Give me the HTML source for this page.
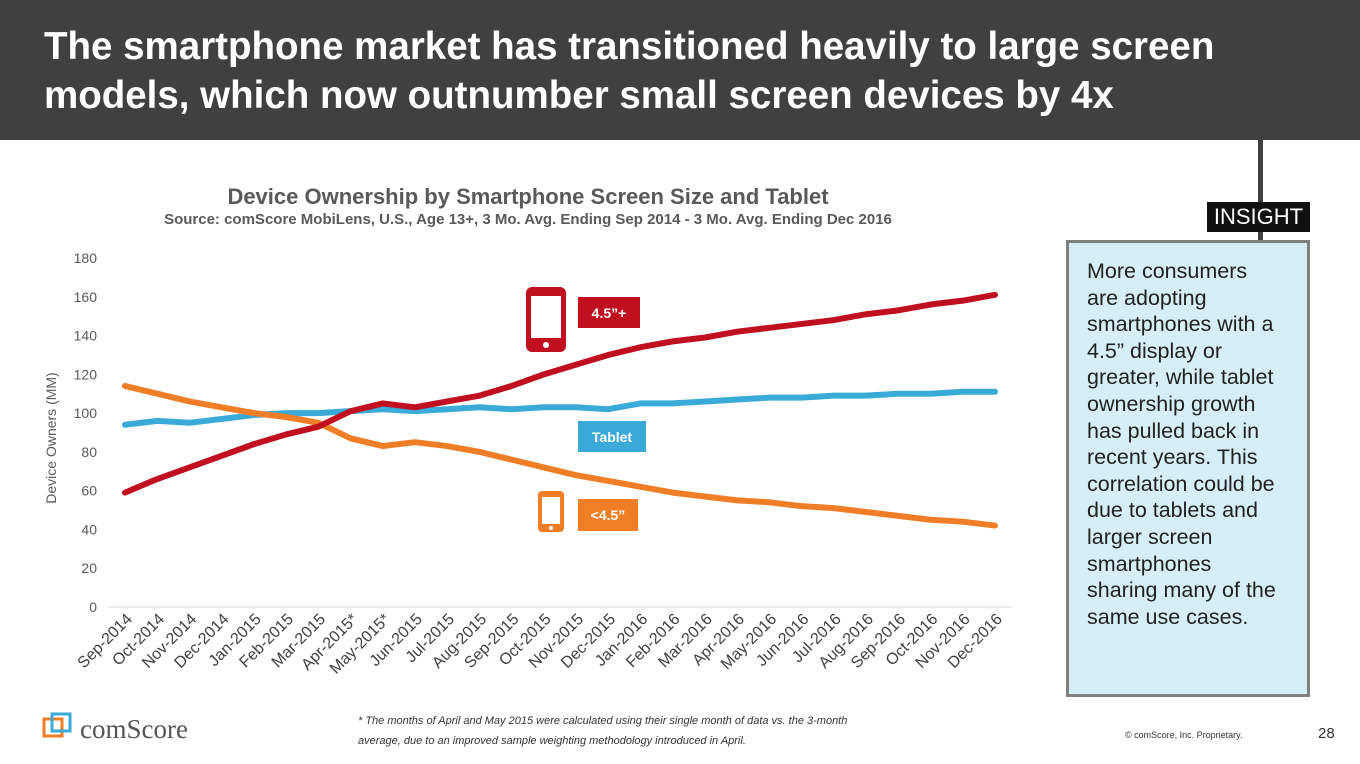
<!DOCTYPE html>
<html><head><meta charset="utf-8"><style>
body{margin:0;width:1360px;height:764px;position:relative;background:#fff;font-family:"Liberation Sans",sans-serif;overflow:hidden}
.abs{position:absolute}
</style></head><body>
<div class="abs" style="left:0;top:0;width:1360px;height:140px;background:#404040"></div>
<div class="abs" style="left:44px;top:22px;width:1300px;color:#fff;font-weight:bold;font-size:38.5px;line-height:49px;white-space:nowrap">The smartphone market has transitioned heavily to large screen<br>models, which now outnumber small screen devices by 4x</div>
<div class="abs" style="left:1258px;top:140px;width:5px;height:102px;background:#404040"></div>
<div class="abs" style="left:1207px;top:202px;width:103px;height:30px;background:#111;color:#fff;font-size:22px;line-height:30px;text-align:center">INSIGHT</div>
<div class="abs" style="left:1066px;top:240px;width:238px;height:451px;background:#d6eef5;border:3px solid #808080"></div>
<div class="abs" style="left:1087px;top:258px;width:197px;font-size:21.5px;line-height:26.6px;color:#222">More consumers are adopting smartphones with a 4.5” display or greater, while tablet ownership growth has pulled back in recent years. This correlation could be due to tablets and larger screen smartphones sharing many of the same use cases.</div>

<svg class="abs" style="left:0;top:0" width="1360" height="764">
<text x="528" y="204" text-anchor="middle" font-size="22" font-weight="bold" fill="#595959">Device Ownership by Smartphone Screen Size and Tablet</text>
<text x="528" y="224" text-anchor="middle" font-size="15" font-weight="bold" fill="#595959">Source: comScore MobiLens, U.S., Age 13+, 3 Mo. Avg. Ending Sep 2014 - 3 Mo. Avg. Ending Dec 2016</text>
<text transform="translate(56,438) rotate(-90)" text-anchor="middle" font-size="14" fill="#595959">Device Owners (MM)</text>
<g id="yticks"></g><g id="xticks"></g><g id="lines"></g>
<g><rect x="526" y="287" width="40" height="65" rx="6" fill="#c0101f"/><rect x="531" y="296" width="30" height="42" fill="#fff"/><circle cx="546" cy="345" r="3" fill="#fff"/></g>
<rect x="578" y="297" width="62" height="31" fill="#c0101f"/>
<text x="609" y="318" text-anchor="middle" font-size="14" font-weight="bold" fill="#fff">4.5”+</text>
<rect x="578" y="421" width="68" height="31" fill="#3aaad8"/>
<text x="612" y="442" text-anchor="middle" font-size="14" font-weight="bold" fill="#fff">Tablet</text>
<g><rect x="538" y="491" width="26" height="41" rx="4" fill="#f07e26"/><rect x="542" y="497" width="18" height="27" fill="#fff"/><circle cx="551" cy="528" r="2" fill="#fff"/></g>
<rect x="578" y="499" width="60" height="32" fill="#f07e26"/>
<text x="608" y="520" text-anchor="middle" font-size="14" font-weight="bold" fill="#fff">&lt;4.5”</text>
<g><rect x="44" y="719" width="18" height="17" fill="none" stroke="#f07e26" stroke-width="3"/><rect x="52" y="714" width="18" height="17" fill="none" stroke="#3aaad8" stroke-width="3"/>
<text x="80" y="738" font-size="27" fill="#555" font-family="Liberation Serif, serif">comScore</text></g>
<text x="358" y="724" font-size="11" font-style="italic" fill="#333">* The months of April and May 2015 were calculated using their single month of data vs. the 3-month</text>
<text x="358" y="744" font-size="11" font-style="italic" fill="#333">average, due to an improved sample weighting methodology introduced in April.</text>
<text x="1125" y="738" font-size="9" fill="#333">© comScore, Inc. Proprietary.</text>
<text x="1318" y="738" font-size="15" fill="#333">28</text>
</svg>
<script>
const categories=["Sep-2014","Oct-2014","Nov-2014","Dec-2014","Jan-2015","Feb-2015","Mar-2015","Apr-2015*","May-2015*","Jun-2015","Jul-2015","Aug-2015","Sep-2015","Oct-2015","Nov-2015","Dec-2015","Jan-2016","Feb-2016","Mar-2016","Apr-2016","May-2016","Jun-2016","Jul-2016","Aug-2016","Sep-2016","Oct-2016","Nov-2016","Dec-2016"];
const largeScreen=[59,66,72,78,84,89,93,101,105,103,106,109,114,120,125,130,134,137,139,142,144,146,148,151,153,156,158,161];
const tablet=[94,96,95,97,99,100,100,101,102,101,102,103,102,103,103,102,105,105,106,107,108,108,109,109,110,110,111,111];
const smallScreen=[114,110,106,103,100,98,95,87,83,85,83,80,76,72,68,65,62,59,57,55,54,52,51,49,47,45,44,42];
const yTicks=[0,20,40,60,80,100,120,140,160,180];
const NS="http://www.w3.org/2000/svg";
const x=i=>125+i*(870/27);
const y=v=>607-v*(349/180);
function mk(t,a,p){const e=document.createElementNS(NS,t);for(const k in a)e.setAttribute(k,a[k]);p.appendChild(e);return e;}
const yt=document.getElementById('yticks');
const gl=mk('line',{x1:108,x2:1012,y1:y(0),y2:y(0),stroke:'#d9d9d9','stroke-width':1},yt);


yTicks.forEach(v=>{const t=mk('text',{x:97,y:y(v)+5,'text-anchor':'end','font-size':14,fill:'#595959'},yt);t.textContent=v;

});
const xt=document.getElementById('xticks');
categories.forEach((c,i)=>{const t=mk('text',{transform:`translate(${x(i)+8},${620}) rotate(-45)`,'text-anchor':'end','font-size':16,fill:'#404040'},xt);t.textContent=c;

});
const lg=document.getElementById('lines');
[[tablet,'#3aaad8','tablet-line'],[smallScreen,'#f07e26','small-screen-line'],[largeScreen,'#c0101f','large-screen-line']].forEach(([d,col,n])=>{
const p=mk('polyline',{points:d.map((v,i)=>x(i)+','+y(v)).join(' '),fill:'none',stroke:col,'stroke-width':6,'stroke-linejoin':'round','stroke-linecap':'round'},lg);

});
</script>
</body></html>
